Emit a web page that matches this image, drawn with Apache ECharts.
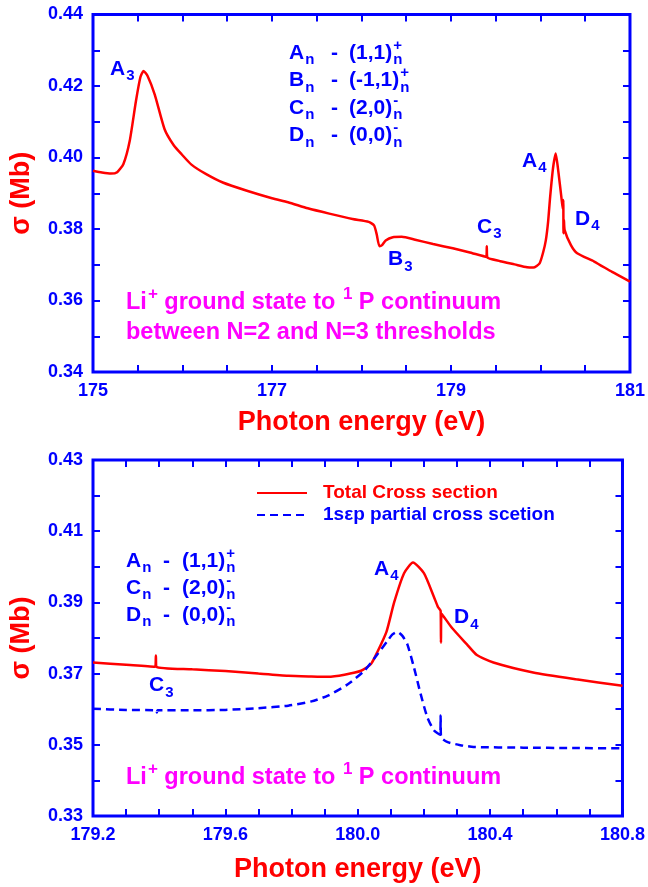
<!DOCTYPE html>
<html>
<head>
<meta charset="utf-8" />
<script src="https://cdn.jsdelivr.net/npm/echarts@6/dist/echarts.min.js"></script>
<style>
  body { margin: 0; background: #fff; }
  #chart-panel { width: 648px; height: 887px; }
</style>
</head>
<body>
<div id="chart-panel"></div>
<script>
// top panel: total cross section, 175-181 eV
const topEnergy = [175.00, 175.10, 175.20, 175.27, 175.34, 175.41, 175.48, 175.53, 175.565, 175.61, 175.69, 175.80, 175.90, 175.99, 176.10, 176.26, 176.45, 176.72, 177.00, 177.18, 177.40, 177.64, 177.90, 178.08, 178.14, 178.17, 178.20, 178.23, 178.27, 178.35, 178.45, 178.60, 178.80, 179.02, 179.20, 179.395, 179.40, 179.405, 179.55, 179.71, 179.85, 179.92, 179.99, 180.03, 180.06, 180.085, 180.108, 180.14, 180.17, 180.20, 180.233, 180.25, 180.255, 180.257, 180.262, 180.27, 180.34, 180.41, 180.60, 180.80, 181.00]
const topSigma = [0.3963, 0.3958, 0.3955, 0.3959, 0.3982, 0.4046, 0.4158, 0.4225, 0.4242, 0.4228, 0.4176, 0.4079, 0.4035, 0.4009, 0.3980, 0.3954, 0.3930, 0.3907, 0.3886, 0.3875, 0.3858, 0.3843, 0.3828, 0.3820, 0.3810, 0.3785, 0.3752, 0.3755, 0.3768, 0.3777, 0.3778, 0.3770, 0.3758, 0.3746, 0.3735, 0.3722, 0.3752, 0.3721, 0.3710, 0.3701, 0.3693, 0.3692, 0.3704, 0.3735, 0.3769, 0.3820, 0.3890, 0.3970, 0.4011, 0.3960, 0.3890, 0.3855, 0.3881, 0.3788, 0.3825, 0.3797, 0.3755, 0.3732, 0.3709, 0.3680, 0.3653]

// bottom panel: total and 1sep partial cross section, 179.2-180.8 eV
const botEnergy = [179.20, 179.30, 179.388, 179.39, 179.392, 179.50, 179.60, 179.70, 179.79, 179.86, 179.91, 179.96, 180.01, 180.04, 180.06, 180.087, 180.11, 180.14, 180.167, 180.20, 180.23, 180.242, 180.2505, 180.2515, 180.253, 180.26, 180.285, 180.33, 180.36, 180.41, 180.53, 180.66, 180.80]
const botTotal = [0.3731, 0.3725, 0.3719, 0.3751, 0.3719, 0.3712, 0.3707, 0.3700, 0.3694, 0.3692, 0.3691, 0.3697, 0.3708, 0.3727, 0.3762, 0.3818, 0.3900, 0.3982, 0.4012, 0.3982, 0.3916, 0.3888, 0.3876, 0.3787, 0.3868, 0.3860, 0.3828, 0.3782, 0.3752, 0.3731, 0.3703, 0.3684, 0.3666]
const partEnergy = [179.20, 179.30, 179.392, 179.393, 179.395, 179.50, 179.60, 179.70, 179.79, 179.86, 179.91, 179.97, 180.02, 180.06, 180.09, 180.105, 180.12, 180.135, 180.15, 180.17, 180.19, 180.21, 180.23, 180.249, 180.2505, 180.2515, 180.27, 180.31, 180.35, 180.50, 180.65, 180.80]
const partSigma = [0.3601, 0.3598, 0.3597, 0.3591, 0.3597, 0.3597, 0.3598, 0.3603, 0.3610, 0.3622, 0.3638, 0.3670, 0.3708, 0.3755, 0.3792, 0.3810, 0.3817, 0.3806, 0.3782, 0.3717, 0.3643, 0.3578, 0.3541, 0.3528, 0.3582, 0.3522, 0.3508, 0.3499, 0.3494, 0.3492, 0.3491, 0.3490]

const seriesNames = ["Total Cross section", "1sεp partial cross scetion"]

const BLUE = "#0000ff"
const RED = "#ff0000"
const MAGENTA = "#ff00ff"
const FONT = "Liberation Sans"

const zip = (xs, ys) => xs.map((x, i) => [x, ys[i]])
const onStep = (v, base, step) => {
  const k = (v - base) / step
  return Math.abs(k - Math.round(k)) < 1e-6
}

// measure text so stacked sub/superscripts line up
const ctx = document.createElement("canvas").getContext("2d")
const measure = (t, size) => {
  ctx.font = `bold ${size}px "${FONT}"`
  return ctx.measureText(t).width
}
const txt = (x, y, t, size, color) => ({
  type: "text",
  x,
  y,
  z: 100,
  style: {
    text: t,
    fill: color,
    fontSize: size,
    fontWeight: "bold",
    fontFamily: FONT,
    align: "left",
    verticalAlign: "middle"
  }
})
// parts: string = normal, number = jump to x offset, {b, p} = sub / sup (stacked if both)
const label = (x, y, parts, color, size) => {
  const small = Math.round(size * 0.72)
  const out = []
  let cx = x
  parts.forEach((p) => {
    if (typeof p === "number") {
      cx = x + p
      return
    }
    if (typeof p === "string") {
      out.push(txt(cx, y, p, size, color))
      cx += measure(p, size)
      return
    }
    let w = 0
    if (p.b) {
      out.push(txt(cx + 1, y + size * 0.34, p.b, small, color))
      w = measure(p.b, small)
    }
    if (p.p) {
      out.push(txt(cx + 1, y - size * 0.36, p.p, small, color))
      w = Math.max(w, measure(p.p, small))
    }
    cx += w + 1
  })
  return out
}

const ann = 21
const note = 23.5
const graphics = [
  // top panel
  ...label(110, 69, ["A", { b: "3" }], BLUE, ann),
  ...label(289, 53, ["A", { b: "n" }, 42, "-", 60, "(1,1)", { b: "n", p: "+" }], BLUE, ann),
  ...label(289, 80.5, ["B", { b: "n" }, 42, "-", 60, "(-1,1)", { b: "n", p: "+" }], BLUE, ann),
  ...label(289, 108, ["C", { b: "n" }, 42, "-", 60, "(2,0)", { b: "n", p: "-" }], BLUE, ann),
  ...label(289, 135.5, ["D", { b: "n" }, 42, "-", 60, "(0,0)", { b: "n", p: "-" }], BLUE, ann),
  ...label(522, 161, ["A", { b: "4" }], BLUE, ann),
  ...label(575, 219, ["D", { b: "4" }], BLUE, ann),
  ...label(477, 227, ["C", { b: "3" }], BLUE, ann),
  ...label(388, 259.5, ["B", { b: "3" }], BLUE, ann),
  ...label(126, 302.5, ["Li", { p: "+" }, " ground state to ", { p: "1" }, " P continuum"], MAGENTA, note),
  ...label(126, 332.5, ["between N=2 and N=3 thresholds"], MAGENTA, note),
  // bottom panel
  ...label(126, 561, ["A", { b: "n" }, 37, "-", 56, "(1,1)", { b: "n", p: "+" }], BLUE, ann),
  ...label(126, 588, ["C", { b: "n" }, 37, "-", 56, "(2,0)", { b: "n", p: "-" }], BLUE, ann),
  ...label(126, 615, ["D", { b: "n" }, 37, "-", 56, "(0,0)", { b: "n", p: "-" }], BLUE, ann),
  ...label(374, 569, ["A", { b: "4" }], BLUE, ann),
  ...label(454, 617.5, ["D", { b: "4" }], BLUE, ann),
  ...label(149, 685.5, ["C", { b: "3" }], BLUE, ann),
  ...label(126, 777.5, ["Li", { p: "+" }, " ground state to ", { p: "1" }, " P continuum"], MAGENTA, note)
]

const tickLabel = {
  color: BLUE,
  fontSize: 18,
  fontWeight: "bold",
  fontFamily: FONT,
  margin: 10
}
const titleStyle = {
  color: RED,
  fontSize: 27,
  fontWeight: "bold",
  fontFamily: FONT
}
const tick = {
  show: true,
  inside: true,
  length: 7,
  lineStyle: { color: BLUE, width: 2 }
}

const makeX = (grid, min, max, step, labelBase, labelStep, digits, gap) => [
  {
    type: "value",
    gridIndex: grid,
    min,
    max,
    interval: step,
    position: "bottom",
    name: "Photon energy (eV)",
    nameLocation: "middle",
    nameGap: gap,
    nameTextStyle: titleStyle,
    axisLine: { show: false },
    axisTick: tick,
    splitLine: { show: false },
    axisLabel: {
      ...tickLabel,
      formatter: (v) => (onStep(v, labelBase, labelStep) ? v.toFixed(digits) : "")
    }
  },
  {
    type: "value",
    gridIndex: grid,
    min,
    max,
    interval: step,
    position: "top",
    axisLine: { show: false },
    axisTick: tick,
    splitLine: { show: false },
    axisLabel: { show: false }
  }
]
const makeY = (grid, min, max) => [
  {
    type: "value",
    gridIndex: grid,
    min,
    max,
    interval: 0.01,
    position: "left",
    name: "σ (Mb)",
    nameLocation: "middle",
    nameGap: 58,
    nameTextStyle: titleStyle,
    axisLine: { show: false },
    axisTick: tick,
    splitLine: { show: false },
    axisLabel: {
      ...tickLabel,
      formatter: (v) => (onStep(v, min, 0.02) ? v.toFixed(2) : "")
    }
  },
  {
    type: "value",
    gridIndex: grid,
    min,
    max,
    interval: 0.01,
    position: "right",
    axisLine: { show: false },
    axisTick: tick,
    splitLine: { show: false },
    axisLabel: { show: false }
  }
]

const gridStyle = { show: true, borderColor: BLUE, borderWidth: 3, backgroundColor: "transparent" }

const curve = (name, x, y, data, color, dash) => ({
  name,
  type: "line",
  xAxisIndex: x,
  yAxisIndex: y,
  data,
  symbol: "none",
  smooth: 0.2,
  lineStyle: { color, width: 2.5, type: dash || "solid" },
  itemStyle: { color, opacity: 0 }
})

const options = {
  animation: false,
  grid: [
    { left: 93, right: 15, top: 14.5, height: 357.5, ...gridStyle },
    { left: 93, right: 22, top: 460, height: 356, ...gridStyle }
  ],
  xAxis: [
    ...makeX(0, 175, 181, 0.5, 175, 2, 0, 37),
    ...makeX(1, 179.2, 180.8, 0.1, 179.2, 0.4, 1, 40)
  ],
  yAxis: [...makeY(0, 0.34, 0.44), ...makeY(1, 0.33, 0.43)],
  legend: {
    data: [
      { name: seriesNames[0], textStyle: { color: RED } },
      { name: seriesNames[1], textStyle: { color: BLUE } }
    ],
    orient: "vertical",
    left: 256,
    top: 482,
    itemWidth: 50,
    itemHeight: 14,
    itemGap: 0,
    padding: 0,
    itemStyle: { opacity: 0 },
    textStyle: {
      fontSize: 19,
      fontWeight: "bold",
      fontFamily: FONT,
      lineHeight: 22,
      padding: [0, 0, 0, 11]
    }
  },
  graphic: graphics,
  series: [
    curve("top-total", 0, 0, zip(topEnergy, topSigma), RED),
    curve(seriesNames[0], 2, 2, zip(botEnergy, botTotal), RED),
    curve(seriesNames[1], 2, 2, zip(partEnergy, partSigma), BLUE, [8, 5])
  ]
}

const chart = echarts.init(document.getElementById("chart-panel"))
chart.setOption(options)
</script>
</body>
</html>
